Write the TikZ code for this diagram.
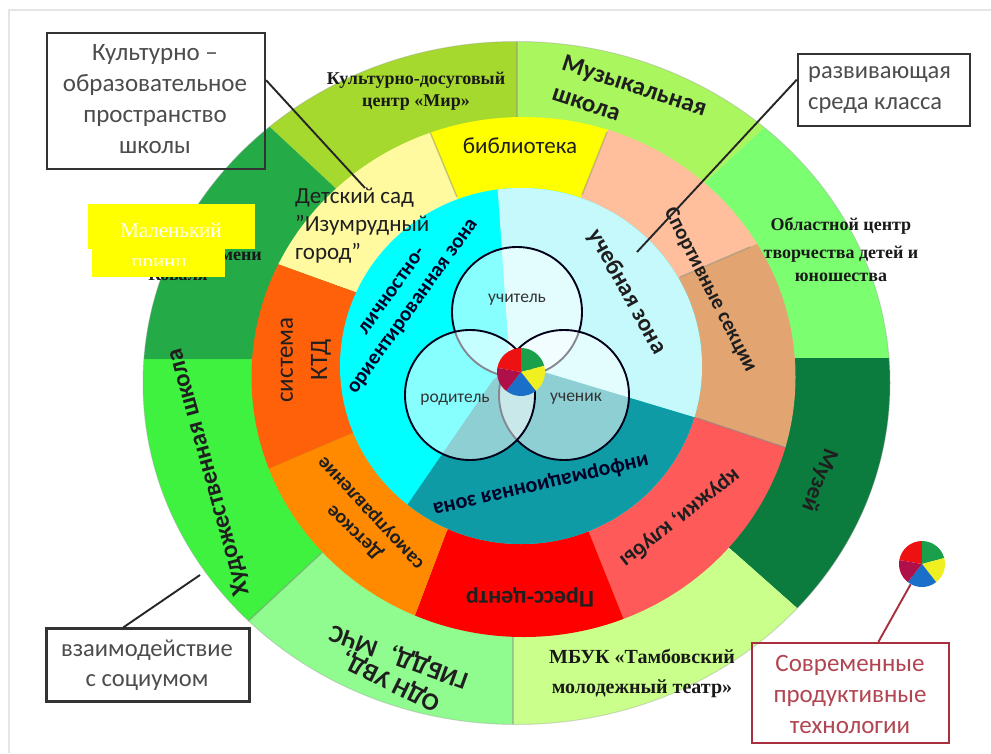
\documentclass[tikz,border=0pt]{standalone}
\usepackage{fontspec}
\usetikzlibrary{calc}
\setmainfont{Carlito}
\newfontfamily\serifb{Liberation Serif}
\newcommand{\fsz}[1]{\fontsize{#1}{#1}\selectfont}
\tikzset{
  x=1pt,y=-1pt,
  boxtext/.style={text=#1,align=center,inner sep=0pt},
  lead/.style={draw=black!85,line width=1.9pt},
  divider/.style={draw=black!45,opacity=.45,line width=1.5pt},
  lab/.style={inner sep=0pt,align=center,text=black!88,font=\bfseries},
  serlab/.style={inner sep=0pt,align=center,text=black!90,font=\serifb\bfseries},
  venn/.style={circle,draw=black!90!blue,line width=1.9pt,fill=white,fill opacity=.53,draw opacity=1,minimum size=130pt,inner sep=0pt},
  vlab/.style={inner sep=0pt,text=black!80,font=\fsz{17.5}},
  piehub/.style={circle,inner sep=0pt,minimum size=#1},
  framebox/.style={draw=#1,line width=2.3pt,inner sep=0pt},
}
\definecolor{cCult}{HTML}{A6D92E}
\definecolor{cMus}{HTML}{AAF65F}
\definecolor{cObl}{HTML}{7BFF70}
\definecolor{cMuz}{HTML}{0B7B3E}
\definecolor{cMbuk}{HTML}{C9FF8A}
\definecolor{cOdn}{HTML}{90FB8E}
\definecolor{cHud}{HTML}{3FF23F}
\definecolor{cDark}{HTML}{24AB47}
\definecolor{cCream}{HTML}{FFF9A0}
\definecolor{cYel}{HTML}{FFFF00}
\definecolor{cPeach}{HTML}{FFBE9C}
\definecolor{cTan}{HTML}{E2A572}
\definecolor{cCoral}{HTML}{FF5A5A}
\definecolor{cRed}{HTML}{FF0000}
\definecolor{cOrange}{HTML}{FF8A00}
\definecolor{cKtd}{HTML}{FF600A}
\definecolor{cLcyan}{HTML}{C5F9FB}
\definecolor{cCyan}{HTML}{00FFFF}
\definecolor{cTeal}{HTML}{0F9BA5}
\definecolor{cRedbox}{HTML}{A8303E}
\definecolor{pRed}{HTML}{EE1111}
\definecolor{pGreen}{HTML}{1AA04A}
\definecolor{pYellow}{HTML}{F0F020}
\definecolor{pBlue}{HTML}{1A6FC8}
\definecolor{pMaroon}{HTML}{B0104A}
\newcommand{\piechart}[3]{%
  \fill[pRed] (#1,#2) -- ++(170:#3) arc[start angle=170,end angle=90,radius=#3] -- cycle;
  \fill[pGreen] (#1,#2) -- ++(90:#3) arc[start angle=90,end angle=15,radius=#3] -- cycle;
  \fill[pYellow] (#1,#2) -- ++(15:#3) arc[start angle=15,end angle=-52,radius=#3] -- cycle;
  \fill[pBlue] (#1,#2) -- ++(-52:#3) arc[start angle=-52,end angle=-128,radius=#3] -- cycle;
  \fill[pMaroon] (#1,#2) -- ++(-128:#3) arc[start angle=-128,end angle=-190,radius=#3] -- cycle;
}
\begin{document}
\begin{tikzpicture}
\useasboundingbox (0,0) rectangle (991,753);
\fill[white] (0,0) rectangle (991,753);
\draw[black!10,line width=1.5pt] (991,10) -- (9,10) -- (9,753);
% outer ring
\begin{scope}
\clip (516.5,383) ellipse [x radius=373.5pt,y radius=341.5pt];
\fill[cCult] (517,370) -- (330,183) -- (200,62) -- (200,-10) -- (517,-10) -- cycle;
\fill[cMus] (517,370) -- (517,-10) -- (900,-10) -- (900,2) -- (700,187) -- cycle;
\fill[cObl] (517,358) -- (700,187) -- (900,2) -- (1000,2) -- (1000,358) -- cycle;
\fill[cMuz] (517,358) -- (1000,358) -- (1000,788) -- (735,553) -- cycle;
\fill[cMbuk] (513,400) -- (735,553) -- (1000,788) -- (1000,800) -- (513,800) -- cycle;
\fill[cOdn] (513,400) -- (513,800) -- (100,800) -- (100,760) -- (327,548) -- cycle;
\fill[cHud] (513,400) -- (327,548) -- (100,760) -- (100,359) -- (513,359) -- cycle;
\fill[cDark] (100,359) -- (513,359) -- (330,183) -- (200,62) -- (100,62) -- cycle;
\draw[divider] (517,20) -- (517,130);
\draw[divider] (513,630) -- (513,740);
\draw[divider] (327,548) -- (245,624);
\end{scope}
\draw[black!40,opacity=.35,line width=1pt] (516.5,383) ellipse [x radius=373.5pt,y radius=341.5pt];
% middle ring
\begin{scope}
\clip (523.5,377) ellipse [x radius=272pt,y radius=260pt];
\fill[cCream] (457,197) -- (408,80) -- (200,80) -- (200,236) -- (355,292) -- (520,370) -- cycle;
\fill[cYel] (520,370) -- (457,197) -- (408,80) -- (628,80) -- (582,195) -- cycle;
\fill[cPeach] (520,370) -- (582,195) -- (628,80) -- (850,80) -- (850,204) -- (680,277) -- cycle;
\fill[cTan] (520,370) -- (680,277) -- (850,204) -- (850,469) -- (697,418) -- cycle;
\fill[cCoral] (520,370) -- (697,418) -- (850,469) -- (850,700) -- (656,700) -- (590,535) -- cycle;
\fill[cRed] (520,370) -- (590,535) -- (656,700) -- (383,700) -- (446,533) -- cycle;
\fill[cOrange] (520,370) -- (446,533) -- (383,700) -- (200,700) -- (200,498) -- (350,434) -- cycle;
\fill[cKtd] (520,370) -- (350,434) -- (200,498) -- (200,236) -- (355,292) -- cycle;
\draw[divider] (457,197) -- (428,127);
\draw[divider] (582,195) -- (607,132);
\draw[divider] (680,277) -- (750,247);
\draw[divider] (697,418) -- (790,449);
\end{scope}
% inner disc
\begin{scope}
\clip (521,366) ellipse [x radius=181pt,y radius=178pt];
\fill[cCyan] (300,150) rectangle (760,600);
\fill[cLcyan] (510,368) -- (495,150) -- (760,150) -- (760,437) -- (547,373) -- cycle;
\fill[cTeal] (510,368) -- (547,373) -- (760,437) -- (760,600) -- (342,600) -- (493,380) -- cycle;
\end{scope}
% venn
\node[venn] (teacher) at (517,312) {};
\node[venn] (student) at (564,395) {};
\node[venn] (parent) at (470,395) {};
\node[vlab] (tl) at (517,300) {учитель};
\node[vlab] (pl) at (455,400) {родитель};
\node[vlab] (sl) at (576,399) {ученик};
% pies
\node[piehub=48pt] (pa) at (521,372) {};
\piechart{521}{372}{24pt}
\node[piehub=46pt] (pb) at (922,564) {};
% ring labels
\node[serlab,font=\serifb\bfseries\fsz{18}] (n1) at (416,91) {Культурно-досуговый\\[4pt]центр «Мир»};
\node[lab,font=\bfseries\fsz{25},rotate=-18] (n2) at (634,87) {Музыкальная};
\node[lab,font=\bfseries\fsz{25},rotate=-18] (n3) at (586,105) {школа};
\node[lab,font=\fsz{23}] (n4) at (520,146) {библиотека};
\node[lab,font=\fsz{23},align=left,anchor=west] (n5) at (295,226) {Детский сад\\[5pt]"Изумрудный\\[5pt]город"};
\node[lab,font=\bfseries\fsz{21},rotate=-63] (n6) at (710,290) {Спортивные секции};
\node[serlab,font=\serifb\bfseries\fsz{18}] (n7) at (841,250) {Областной центр\\[10pt]творчества детей и\\[5pt]юношества};
\node[lab,font=\bfseries\fsz{24},rotate=-61] (n8) at (627,292) {учебная зона};
\node[lab,font=\bfseries\fsz{21},rotate=54.4,text=black!85!blue] (n9) at (392,291) {личностно-};
\node[lab,font=\bfseries\fsz{21},rotate=54.4,text=black!85!blue] (n10) at (414,307) {ориентированная зона};
\node[lab,font=\fsz{25},rotate=90] (n11) at (287,360) {система};
\node[lab,font=\fsz{25},rotate=90] (n12) at (321,360) {КТД};
\node[lab,font=\bfseries\fsz{25},rotate=105.5] (n13) at (209,472) {Художественная школа};
\node[lab,font=\bfseries\fsz{20},rotate=136.6] (n14) at (355,532) {Детское};
\node[lab,font=\bfseries\fsz{20},rotate=133] (n15) at (372,512) {самоуправление};
\node[lab,font=\bfseries\fsz{24},rotate=180] (n16) at (530,597) {Пресс-центр};
\node[lab,font=\bfseries\fsz{22},rotate=193,text=black!85!blue] (n17) at (541,485) {информационная зона};
\node[lab,font=\bfseries\fsz{22.5},rotate=218] (n18) at (680,518) {кружки, клубы};
\node[lab,font=\bfseries\fsz{23},rotate=249] (n19) at (819,480) {Музей};
\node[serlab,font=\serifb\bfseries\fsz{20}] (n20) at (642,673) {МБУК «Тамбовский\\[10pt]молодежный театр»};
\node[lab,font=\bfseries\fsz{25},rotate=154] (n21) at (391,681) {ОДН УВД,};
\node[lab,font=\bfseries\fsz{25},rotate=160] (n22) at (399,656) {ГИБДД,\hspace{14pt}МЧС};
% covered caption and its yellow patches
\node[serlab,font=\serifb\bfseries\fsz{18},anchor=base east] (n23) at (262,260) {имени};
\node[serlab,font=\serifb\bfseries\fsz{18},anchor=base] (n24) at (178,280) {Коваля};
\fill[cYel] (88,204) rectangle (255,249);
\fill[cYel] (92,249) rectangle (225,277);
\node[inner sep=0pt,text=white,font=\serifb\fsz{21},anchor=base] (n25) at (171,237) {Маленький};
\begin{scope}
\clip (92,249) rectangle (225,265);
\node[inner sep=0pt,text=white,font=\serifb\fsz{21},anchor=base] (n26) at (159,268) {принц};
\end{scope}
% callouts
\node[framebox=black!80,minimum width=218pt,minimum height=136pt] (b1) at (156,101) {};
\node[boxtext=black!70,font=\fsz{25}] (t1) at (155,99) {Культурно –\\[6pt]образовательное\\[6pt]пространство\\[6pt]школы};
\node[framebox=black!80,minimum width=172pt,minimum height=72pt] (b2) at (884,90) {};
\node[boxtext=black!70,font=\fsz{24.5},align=left,anchor=west] (t2) at (808,90) {развивающая\\[6pt]среда класса};
\node[framebox=black!80,minimum width=203pt,minimum height=73pt] (b3) at (148,665) {};
\node[boxtext=black!70,font=\fsz{24.5}] (t3) at (147,665) {взаимодействие\\[6pt]с социумом};
\node[framebox=cRedbox,minimum width=197pt,minimum height=100pt] (b4) at (850.5,693) {};
\node[boxtext=cRedbox!90,font=\fsz{25}] (t4) at (850,694) {Современные\\[6pt]продуктивные\\[6pt]технологии};
% leaders
\coordinate (e1) at (365,188);
\coordinate (e2) at (637,252);
\coordinate (e3) at (200,575);
\draw[lead] ($(b1.north east)!.35!(b1.south east)$) -- (e1);
\draw[lead] ($(b2.north west)!.36!(b2.south west)$) -- (e2);
\draw[lead] ($(b3.north west)!.38!(b3.north east)$) -- (e3);
\draw[draw=cRedbox,line width=1.9pt] ($(b4.north west)!.64!(b4.north east)$) -- (pb);
\piechart{922}{564}{23pt}
\end{tikzpicture}
\end{document}
